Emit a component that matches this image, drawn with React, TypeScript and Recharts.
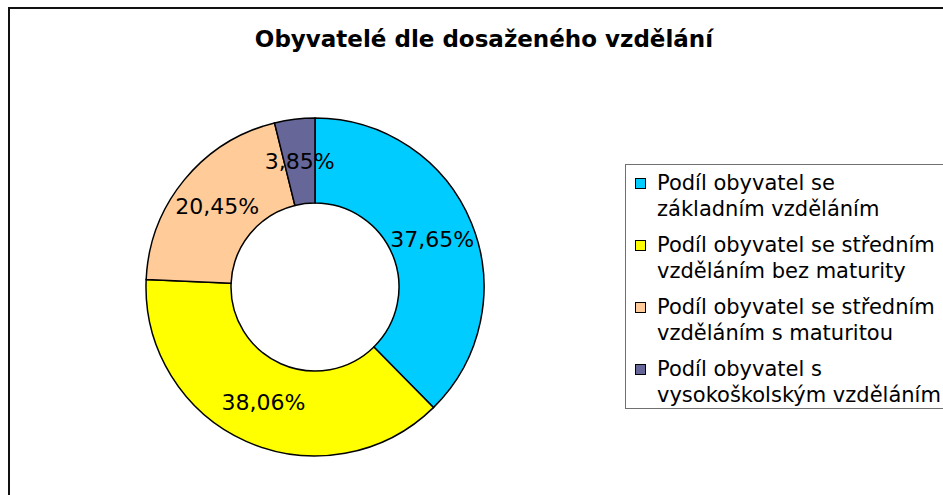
import { PieChart, Pie, Cell, Legend } from "recharts";

const kategorie = [
  "Podíl obyvatel se základním vzděláním",
  "Podíl obyvatel se středním vzděláním bez maturity",
  "Podíl obyvatel se středním vzděláním s maturitou",
  "Podíl obyvatel s vysokoškolským vzděláním",
];
const podily = [37.65, 38.06, 20.45, 3.85];
const barvy = ["#00CCFF", "#FFFF00", "#FFCC99", "#666699"];
const nadpis = "Obyvatelé dle dosaženého vzdělání";

const data = kategorie.map((name, i) => ({ name, value: podily[i] }));

const FONT = "'DejaVu Sans', Verdana, sans-serif";
const RADIAN = Math.PI / 180;

function Popisek(props: any) {
  const { cx, cy, midAngle, innerRadius, outerRadius, value } = props;
  const r = (innerRadius + outerRadius) / 2;
  const x = cx + r * Math.cos(-midAngle * RADIAN);
  const y = cy + r * Math.sin(-midAngle * RADIAN);
  return (
    <text
      x={x}
      y={y}
      textAnchor="middle"
      dominantBaseline="central"
      fontFamily={FONT}
      fontSize={22}
      fill="#000"
    >
      {value.toFixed(2).replace(".", ",")}%
    </text>
  );
}

// legenda v poradi dat (recharts by ji u vertical layoutu otocil)
function Legenda() {
  return (
    <div
      style={{
        border: "1px solid #707070",
        background: "#fff",
        padding: "5px 0 2px 9px",
        fontFamily: FONT,
        fontSize: 21,
        lineHeight: "26px",
        color: "#000",
        boxSizing: "border-box",
        height: 245,
      }}
    >
      {data.map((d, i) => (
        <div key={d.name} style={{ display: "flex", alignItems: "flex-start", marginBottom: 10 }}>
          <span
            style={{
              display: "inline-block",
              width: 11,
              height: 11,
              marginTop: 8,
              marginRight: 11,
              border: "1.5px solid #000",
              boxSizing: "border-box",
              background: barvy[i],
              flex: "none",
            }}
          />
          <span style={{ width: 290 }}>{d.name}</span>
        </div>
      ))}
    </div>
  );
}

export default function App() {
  return (
    <div
      style={{
        position: "fixed",
        left: 8,
        top: 7,
        width: 935,
        height: 488,
        borderLeft: "2px solid #111",
        borderTop: "2px solid #111",
        boxSizing: "border-box",
        overflow: "hidden",
        background: "#fff",
      }}
    >
      <PieChart width={933} height={486} margin={{ top: 0, right: 0, bottom: 0, left: 0 }}>
        <text
          x={474}
          y={38}
          textAnchor="middle"
          fontFamily={FONT}
          fontWeight="bold"
          fontSize={23}
          fill="#000"
        >
          {nadpis}
        </text>
        <Pie
          data={data}
          dataKey="value"
          nameKey="name"
          cx={305}
          cy={278}
          innerRadius={84}
          outerRadius={169}
          startAngle={90}
          endAngle={-270}
          stroke="#000"
          strokeWidth={1.5}
          label={Popisek}
          labelLine={false}
          isAnimationActive={false}
        >
          {data.map((d, i) => (
            <Cell key={d.name} fill={barvy[i]} />
          ))}
        </Pie>
        <Legend
          layout="vertical"
          align="right"
          verticalAlign="top"
          content={<Legenda />}
          wrapperStyle={{ left: 615, top: 155, width: 340, right: "auto" }}
        />
      </PieChart>
    </div>
  );
}
